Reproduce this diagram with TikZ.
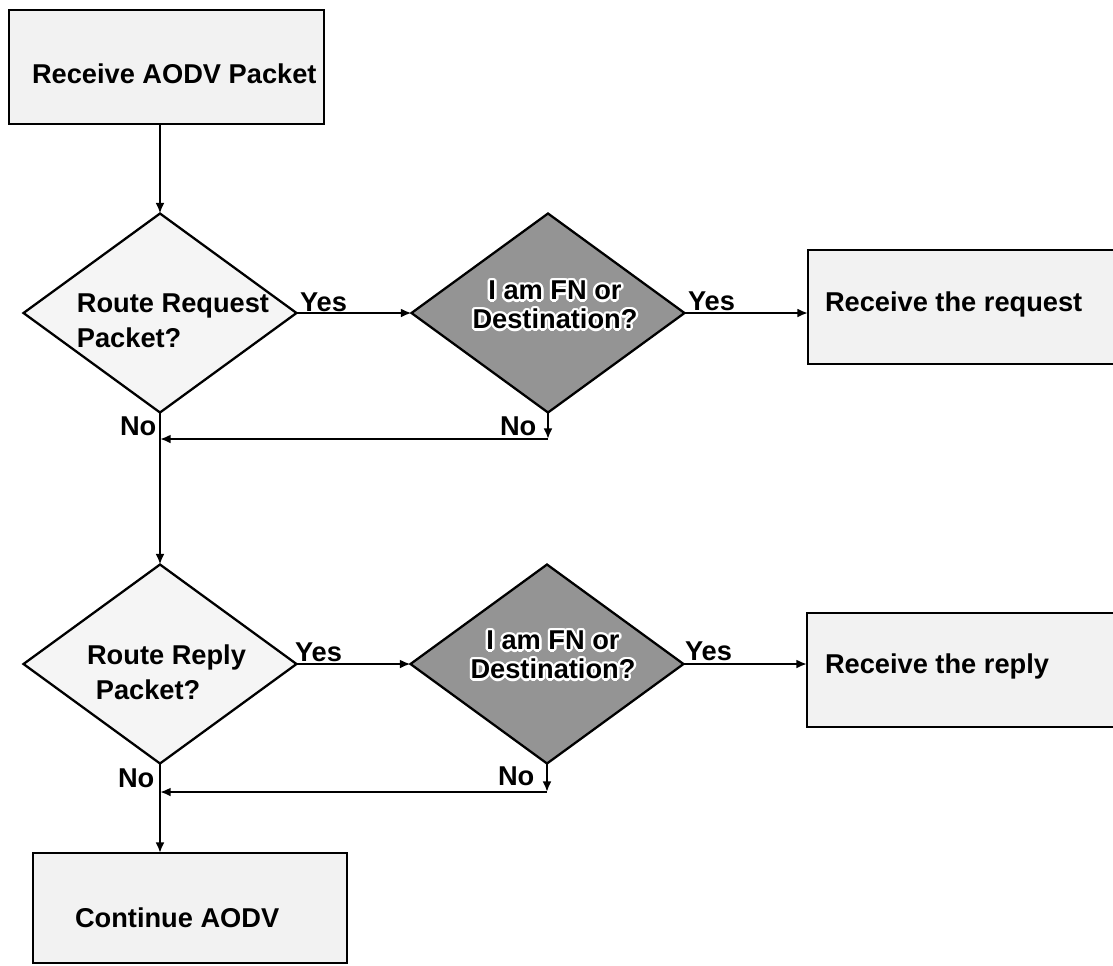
\documentclass[tikz,border=0pt]{standalone}
\usepackage{fontspec}
\setmainfont{Liberation Sans}
\usetikzlibrary{shapes.geometric,arrows.meta,calc}

% one drawing unit = one pixel of the layout grid
\def\pxu{0.02cm}

% decision text with a white outline: #1 name, #2 position, #3 text
\newcommand{\haloNode}[3]{%
  \foreach \ang in {0,30,...,330}{%
    \node[dtxt,text=white] (#1-\ang) at ($#2+(\ang:1.4pt)$) {#3};}%
  \node[dtxt] (#1) at #2 {#3};}

\begin{document}
\begin{tikzpicture}[x=0.02cm,y=-0.02cm,
  every node/.style={inner sep=0pt,outer sep=0pt},
  txt/.style={font=\fontsize{15.5}{20}\selectfont\bfseries},
  dtxt/.style={font=\fontsize{15.5}{16.5}\selectfont\bfseries,align=center},
  lbl/.style={txt,anchor=base west},
  procbox/.style={rectangle,draw,line width=1.6pt,fill=black!5},
  decide/.style={diamond,draw,line width=1.3pt,fill=black!4,
    minimum width=273*\pxu,minimum height=199*\pxu},
  decidedark/.style={decide,fill=black!42},
  arr/.style={line width=1.3pt,-{Latex[length=6pt,width=5pt]}}]

\useasboundingbox (0,0) rectangle (1113,965);
\clip (0,0) rectangle (1113,965);

% start
\node[procbox,minimum width=315*\pxu,minimum height=114*\pxu] (start) at (166.5,67) {};
\node[lbl] (startt) at (32,83) {Receive AODV Packet};

% route request branch
\node[decide] (d1) at (160,313) {};
\node[txt,align=left] (d1t) at (173,321) {Route Request\\Packet?};
\node[decidedark] (d2) at (548,313) {};
\haloNode{d2t}{(555,305)}{I am FN or\\Destination?}
\node[procbox,anchor=north west,minimum width=340*\pxu,minimum height=114*\pxu] (r1) at (808,250) {};
\node[lbl] (r1t) at (825,311) {Receive the request};

% route reply branch
\node[decide] (d3) at (160,664) {};
\node[txt,align=left] (d3t) at (166.5,672.5) {Route Reply\\\hspace*{5pt}Packet?};
\node[decidedark] (d4) at (547,664) {};
\haloNode{d4t}{(553,655)}{I am FN or\\Destination?}
\node[procbox,anchor=north west,minimum width=340*\pxu,minimum height=114*\pxu] (r2) at (807,613) {};
\node[lbl] (r2t) at (825,673) {Receive the reply};

% end
\node[procbox,anchor=north west,minimum width=314*\pxu,minimum height=110*\pxu] (end) at (33,853) {};
\node[lbl] (endt) at (75,927) {Continue AODV};

% junction points
\coordinate (j1) at (160,439);
\coordinate (c1) at (548,439);
\coordinate (j2) at (160,792);
\coordinate (c2) at (547,792);

% connectors
\draw[arr] (d1.north |- start.south) -- (d1.north);
\draw[arr] (d1.east) -- (d2.west);
\draw[arr] (d2.east) -- (d2.east -| r1.west);
\draw[arr] (d2.south) -- (c1);
\draw[arr] (c1) -- (j1);
\draw[arr] (d1.south) -- (d3.north);
\draw[arr] (d3.east) -- (d4.west);
\draw[arr] (d4.east) -- (d4.east -| r2.west);
\draw[arr] (d4.south) -- (c2);
\draw[arr] (c2) -- (j2);
\draw[arr] (d3.south) -- (d3.south |- end.north);

% branch labels
\node[lbl] (y1) at (300,311) {Yes};
\node[lbl] (y2) at (688,310) {Yes};
\node[lbl] (y3) at (295,661) {Yes};
\node[lbl] (y4) at (685,660) {Yes};
\node[lbl] (n1) at (120,435) {No};
\node[lbl] (n2) at (500,435) {No};
\node[lbl] (n3) at (118,787) {No};
\node[lbl] (n4) at (498,785) {No};
\end{tikzpicture}
\end{document}
